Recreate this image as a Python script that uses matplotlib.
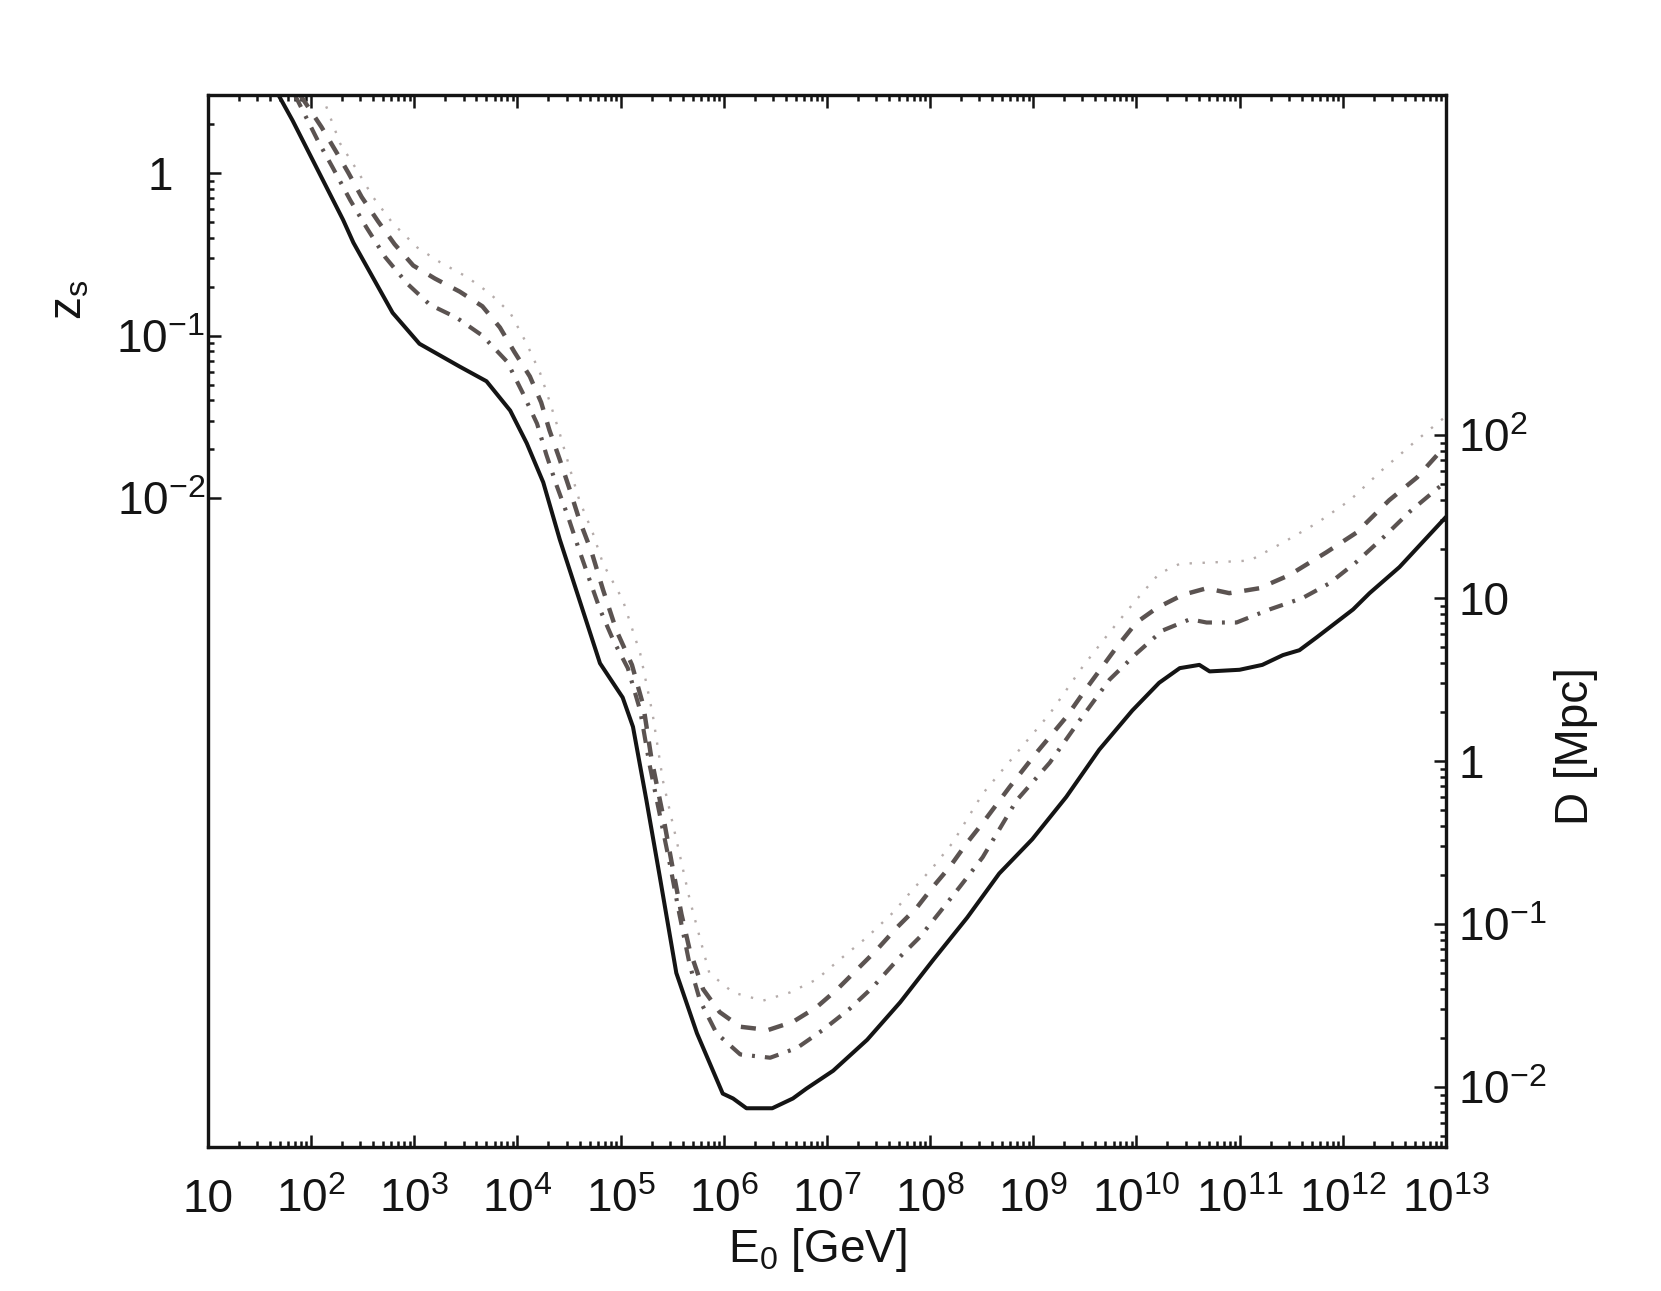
"""Propagation horizon z_s / D versus primary energy E_0."""

import numpy as np
import matplotlib
matplotlib.use("Agg")
import matplotlib.pyplot as plt
from matplotlib.ticker import FixedLocator, NullFormatter

plt.rcParams["font.family"] = ["Liberation Sans Narrow", "Liberation Sans", "DejaVu Sans"]
plt.rcParams["mathtext.default"] = "regular"
plt.rcParams["font.size"] = 33

# ---- data: log10(E_0 / GeV) and log10(D / Mpc) ----
solid_logE = [1.68, 1.82, 2.31, 2.41, 2.79, 3.05, 3.44, 3.70, 3.93, 4.09, 4.25,
              4.41, 4.60, 4.80, 5.02, 5.12, 5.25, 5.38, 5.54, 5.74, 5.99, 6.09,
              6.22, 6.47, 6.67, 6.80, 7.06, 7.39, 7.71, 8.03, 8.36, 8.67, 8.99,
              9.32, 9.64, 9.96, 10.22, 10.42, 10.61, 10.71, 11.00, 11.22, 11.42,
              11.58, 11.75, 12.10, 12.26, 12.55, 12.99]
solid_logD = [4.09, 3.93, 3.32, 3.18, 2.75, 2.56, 2.42, 2.33, 2.15, 1.95, 1.71,
              1.36, 0.99, 0.60, 0.39, 0.21, -0.24, -0.71, -1.30, -1.67, -2.04,
              -2.07, -2.13, -2.13, -2.07, -2.01, -1.90, -1.71, -1.48, -1.22,
              -0.96, -0.69, -0.48, -0.22, 0.07, 0.31, 0.48, 0.57, 0.59, 0.55,
              0.56, 0.59, 0.65, 0.68, 0.76, 0.93, 1.03, 1.19, 1.49]

dashdot_logE = [1.84, 2.07, 2.21, 2.38, 2.54, 2.72, 2.93, 3.15, 3.41, 3.66, 3.90,
                4.05, 4.19, 4.28, 4.38, 4.49, 4.59, 4.70, 4.80, 4.93, 5.07, 5.19,
                5.28, 5.38, 5.48, 5.57, 5.67, 5.77, 5.93, 6.16, 6.45, 6.71, 6.96,
                7.22, 7.44, 7.71, 7.90, 8.09, 8.29, 8.51, 8.84, 9.16, 9.45, 9.74,
                10.00, 10.25, 10.52, 10.68, 10.97, 11.29, 11.61, 11.87, 12.13,
                12.39, 12.65, 12.99]
dashdot_logD = [4.09, 3.80, 3.64, 3.44, 3.27, 3.09, 2.93, 2.80, 2.72, 2.61, 2.45,
                2.26, 2.07, 1.88, 1.69, 1.50, 1.31, 1.11, 0.93, 0.74, 0.57, 0.31,
                -0.02, -0.33, -0.64, -0.94, -1.25, -1.47, -1.67, -1.80, -1.82,
                -1.76, -1.65, -1.52, -1.39, -1.20, -1.08, -0.93, -0.77, -0.59,
                -0.24, -0.01, 0.25, 0.50, 0.66, 0.80, 0.87, 0.85, 0.85, 0.93,
                1.00, 1.09, 1.22, 1.37, 1.53, 1.71]

dashed_logE = [1.89, 2.10, 2.25, 2.36, 2.49, 2.65, 2.81, 2.99, 3.20, 3.44, 3.66,
               3.83, 3.97, 4.12, 4.23, 4.31, 4.41, 4.51, 4.60, 4.72, 4.83, 4.96,
               5.11, 5.22, 5.30, 5.41, 5.50, 5.59, 5.67, 5.80, 5.96, 6.16, 6.43,
               6.67, 6.90, 7.10, 7.29, 7.48, 7.68, 7.87, 8.03, 8.19, 8.36, 8.51,
               8.77, 9.03, 9.32, 9.52, 9.81, 10.00, 10.20, 10.45, 10.68, 10.90,
               11.19, 11.48, 11.84, 12.13, 12.45, 12.72, 12.99]
dashed_logD = [4.09, 3.89, 3.73, 3.61, 3.46, 3.31, 3.17, 3.04, 2.96, 2.88, 2.79,
               2.66, 2.51, 2.36, 2.20, 2.03, 1.85, 1.66, 1.48, 1.28, 1.05, 0.80,
               0.59, 0.34, 0.01, -0.33, -0.64, -0.94, -1.16, -1.40, -1.54, -1.63,
               -1.65, -1.60, -1.51, -1.40, -1.28, -1.16, -1.02, -0.90, -0.77,
               -0.65, -0.50, -0.38, -0.16, 0.05, 0.27, 0.45, 0.70, 0.85, 0.94,
               1.02, 1.06, 1.03, 1.06, 1.14, 1.28, 1.40, 1.60, 1.74, 1.93]

dotted_logE = [2.10, 2.15, 2.28, 2.44, 2.60, 2.79, 3.03, 3.25, 3.51, 3.73, 3.93,
               4.09, 4.22, 4.31, 4.41, 4.51, 4.60, 4.73, 4.83, 5.02, 5.19, 5.31,
               5.41, 5.54, 5.67, 5.80, 5.86, 6.09, 6.38, 6.64, 6.90, 7.12, 7.39,
               7.64, 7.83, 8.03, 8.22, 8.51, 8.84, 9.16, 9.48, 9.74, 10.00,
               10.22, 10.42, 10.78, 11.10, 11.42, 11.75, 12.07, 12.39, 12.72,
               12.99]
dotted_logD = [4.09, 4.01, 3.79, 3.63, 3.46, 3.30, 3.15, 3.06, 2.97, 2.87, 2.75,
               2.56, 2.38, 2.21, 2.01, 1.79, 1.60, 1.40, 1.21, 0.99, 0.66, 0.29,
               -0.12, -0.48, -0.85, -1.16, -1.30, -1.42, -1.47, -1.42, -1.34,
               -1.22, -1.08, -0.93, -0.79, -0.65, -0.50, -0.20, 0.05, 0.29, 0.58,
               0.79, 0.99, 1.15, 1.21, 1.22, 1.23, 1.34, 1.46, 1.60, 1.79, 1.97,
               2.11]

# ---- axes ranges and ticks ----
E_LIM = (10 ** 1, 10 ** 13)
D_LIM = (10 ** -2.368, 10 ** 4.086)
Z_LIM = (10 ** -5.99, 10 ** 0.48)

E_TICKS = [10.0 ** k for k in range(1, 14)]
E_LABELS = ["10"] + [f"$10^{{{k}}}$" for k in range(2, 14)]

D_TICKS = [1e-2, 1e-1, 1, 10, 1e2]
D_LABELS = ["$10^{-2}$", "$10^{-1}$", "1", "10", "$10^{2}$"]
D_MINOR = [m * 10.0 ** e for e in range(-3, 2) for m in range(2, 10)
           if m * 10.0 ** e > D_LIM[0]]

Z_TICKS = [1e-2, 1e-1, 1]
Z_LABELS = ["$10^{-2}$", "$10^{-1}$", "1"]
Z_MINOR = [m * 10.0 ** e for e in range(-2, 1) for m in range(2, 10)
           if m * 10.0 ** e < Z_LIM[1]]

INK = "#141414"
GREY = "#5b5351"
LIGHT = "#b5acaa"

fig = plt.figure(figsize=(16.61, 12.91), dpi=100)
ax = fig.add_axes([0.1252, 0.1115, 0.7453, 0.8149])
ax2 = ax.twinx()   # left axis: redshift z_s

E = lambda v: 10.0 ** np.asarray(v)
ax.plot(E(dotted_logE), E(dotted_logD), color=LIGHT, lw=1.7,
        dashes=(1.0, 4.5), dash_capstyle="butt")
ax.plot(E(dashed_logE), E(dashed_logD), color=GREY, lw=3.2,
        dashes=(3.4, 2.9), dash_capstyle="butt")
ax.plot(E(dashdot_logE), E(dashdot_logD), color=GREY, lw=3.0,
        dashes=(3.4, 2.4, 0.7, 2.4), dash_capstyle="butt")
ax.plot(E(solid_logE), E(solid_logD), color=INK, lw=2.9)

ax.set_xscale("log")
ax.set_yscale("log")
ax.set_xlim(*E_LIM)
ax.set_ylim(*D_LIM)

ax.set_xticks(E_TICKS, E_LABELS)
ax.xaxis.set_minor_locator(FixedLocator(
    [m * 10.0 ** e for e in range(1, 13) for m in range(2, 10)]))
ax.xaxis.set_minor_formatter(NullFormatter())
ax.tick_params(axis="x", which="both", direction="in", top=True, bottom=True,
               colors=INK, width=1.8, pad=47)
ax.tick_params(axis="x", which="major", length=9)
ax.tick_params(axis="x", which="minor", length=4)
for t in ax.xaxis.get_major_ticks():
    t.label1.set_verticalalignment("baseline")

# right axis: distance D
ax.set_yticks(D_TICKS, D_LABELS)
ax.yaxis.set_minor_locator(FixedLocator(D_MINOR))
ax.yaxis.set_minor_formatter(NullFormatter())
ax.yaxis.tick_right()
ax.tick_params(axis="y", which="both", direction="in", left=False, right=True,
               labelleft=False, labelright=True, colors=INK, width=1.8, pad=9)
ax.tick_params(axis="y", which="major", length=9)
ax.tick_params(axis="y", which="minor", length=4)

ax2.set_yscale("log")
ax2.set_ylim(*Z_LIM)
ax2.set_yticks(Z_TICKS, Z_LABELS)
ax2.yaxis.set_minor_locator(FixedLocator(Z_MINOR))
ax2.yaxis.set_minor_formatter(NullFormatter())
ax2.yaxis.tick_left()
ax2.tick_params(axis="y", which="both", direction="in", left=True, right=False,
                labelleft=True, labelright=False, colors=INK, width=1.8, pad=34)
ax2.tick_params(axis="y", which="major", length=9)
ax2.tick_params(axis="y", which="minor", length=4)
for t in ax2.yaxis.get_major_ticks():
    t.label1.set_horizontalalignment("center")

for a in (ax, ax2):
    for s in a.spines.values():
        s.set_linewidth(2.3)
        s.set_color(INK)

ax.text(0.492, -0.109, "E$_{0}$ [GeV]", transform=ax.transAxes,
        ha="center", va="baseline", color=INK)
ax.text(-0.112, 0.805, "z$_{s}$", transform=ax.transAxes, rotation=90,
        ha="center", va="center", color=INK)
ax.text(1.105, 0.381, "D [Mpc]", transform=ax.transAxes, rotation=90,
        ha="center", va="center", color=INK)

fig.savefig("out.png", dpi=100, facecolor="white")
